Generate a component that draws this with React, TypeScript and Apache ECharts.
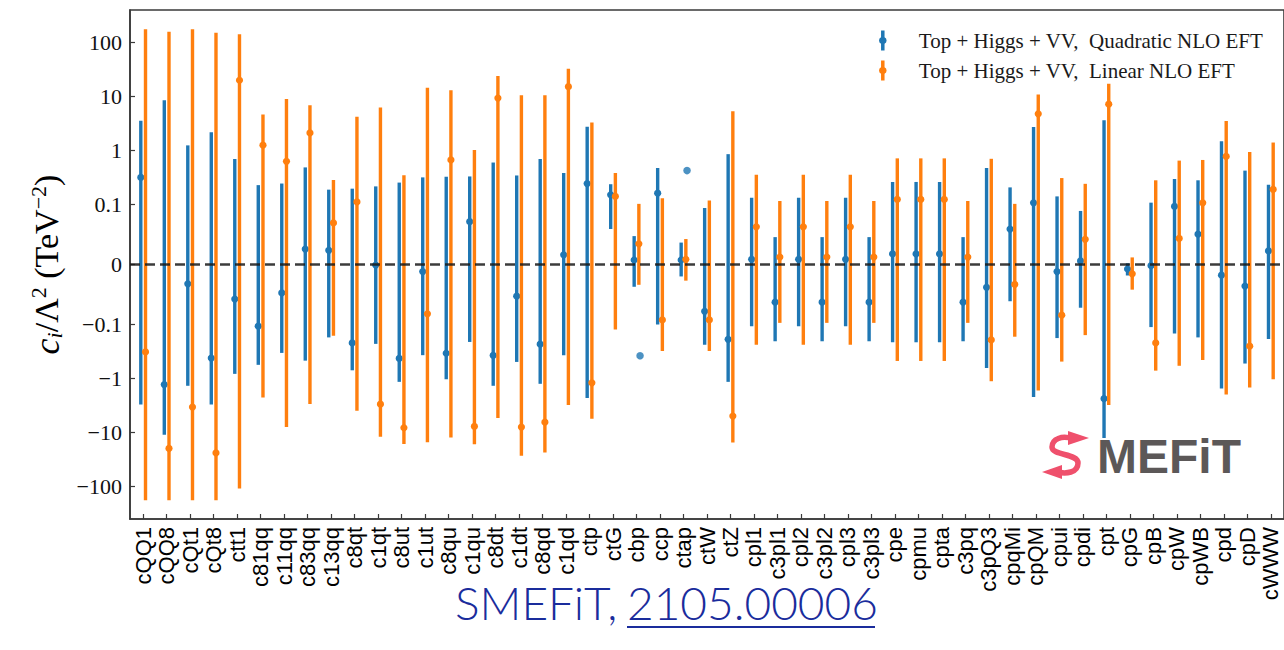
import React, { useEffect, useRef } from "react";
import * as echarts from "echarts";

// Wilson coefficients, in plotting order
const coefficients = [
  "cQQ1", "cQQ8", "cQt1", "cQt8", "ctt1", "c81qq", "c11qq", "c83qq", "c13qq", "c8qt",
  "c1qt", "c8ut", "c1ut", "c8qu", "c1qu", "c8dt", "c1dt", "c8qd", "c1qd", "ctp",
  "ctG", "cbp", "ccp", "ctap", "ctW", "ctZ", "cpl1", "c3pl1", "cpl2", "c3pl2",
  "cpl3", "c3pl3", "cpe", "cpmu", "cpta", "c3pq", "c3pQ3", "cpqMi", "cpQM", "cpui",
  "cpdi", "cpt", "cpG", "cpB", "cpW", "cpWB", "cpd", "cpD", "cWWW",
];

// Top + Higgs + VV, quadratic NLO EFT: best fit and lower / upper bounds (TeV^-2)
const quadCentral = [
  0.317, -1.29, -0.0322, -0.417, -0.0575, -0.107, -0.0473, 0.0258, 0.0236, -0.219,
  -0.001, -0.423, -0.0118, -0.34, 0.0714, -0.374, -0.0527, -0.231, 0.0161, 0.244,
  0.151, 0.0075, 0.162, 0.0075, -0.0779, -0.188, 0.0086, -0.0628, 0.0086, -0.0628,
  0.0086, -0.0628, 0.0177, 0.0177, 0.0177, -0.0628, -0.0381, 0.0591, 0.107, -0.0118,
  0.0059, -2.36, -0.0075, -0.002, 0.0967, 0.0505, -0.0177, -0.036, 0.0226,
];
const quadLow = [
  -3.02, -11.0, -1.36, -3.02, -0.818, -0.557, -0.335, -0.466, -0.173, -0.703,
  -0.228, -1.15, -0.369, -1.03, -0.21, -1.36, -0.492, -1.25, -0.369, -2.29,
  0.0591, -0.0371, -0.0999, -0.0199, -0.237, -1.15, -0.108, -0.204, -0.108, -0.204,
  -0.108, -0.204, -0.213, -0.213, -0.213, -0.204, -0.639, -0.0612, -2.2, -0.178,
  -0.072, -12.6, -0.0183, -0.1115, -0.147, -0.173, -1.52, -0.527, -0.185,
];
const quadHigh = [
  3.56, 8.47, 1.24, 2.17, 0.694, 0.228, 0.244, 0.485, 0.188, 0.196,
  0.216, 0.254, 0.317, 0.326, 0.33, 0.597, 0.344, 0.694, 0.384, 2.74,
  0.237, 0.0473, 0.472, 0.0365, 0.094, 0.853, 0.133, 0.0456, 0.133, 0.0456,
  0.133, 0.0456, 0.261, 0.261, 0.261, 0.0456, 0.472, 0.207, 2.7, 0.141,
  0.0892, 3.61, 0.002, 0.108, 0.296, 0.28, 1.48, 0.423, 0.231,
];
// Second quadratic solution for cbp and ctap
const quadAltIndex = [21, 23];
const quadAltValue = [-0.379, 0.423];

// Top + Higgs + VV, linear NLO EFT
const linCentral = [
  -0.321, -19.6, -3.37, -23.8, 19.9, 1.25, 0.63, 2.11, 0.0693, 0.1115,
  -2.98, -8.13, -0.0822, 0.666, -7.69, 9.33, -7.91, -6.43, 15.1, -1.2,
  0.141, 0.0344, -0.0924, 0.0086, -0.0924, -4.95, 0.0628, 0.0124, 0.0628, 0.0124,
  0.0628, 0.0124, 0.124, 0.124, 0.124, 0.0124, -0.193, -0.0333, 4.75, -0.0844,
  0.0419, 7.18, -0.0156, -0.219, 0.0435, 0.107, 0.774, -0.251, 0.19,
];
const linLow = [
  -179, -179, -179, -179, -108, -2.23, -7.91, -2.94, -0.162, -3.92,
  -11.9, -16.2, -15.1, -12.3, -16.4, -5.38, -26.9, -23.4, -3.1, -5.53,
  -0.124, -0.0338, -0.308, -0.0269, -0.308, -15.3, -0.237, -0.0972, -0.237, -0.0972,
  -0.237, -0.0972, -0.472, -0.472, -0.472, -0.0972, -1.12, -0.168, -1.67, -0.485,
  -0.157, -3.1, -0.0419, -0.713, -0.58, -0.453, -1.97, -1.46, -1.03,
];
const linHigh = [
  174, 158, 174, 150, 142, 4.62, 8.95, 6.89, 0.284, 4.2,
  6.26, 0.349, 14.5, 13.0, 1.02, 23.8, 10.5, 10.5, 32.6, 3.28,
  0.384, 0.1026, 0.131, 0.0424, 0.119, 5.31, 0.354, 0.116, 0.354, 0.116,
  0.354, 0.116, 0.713, 0.713, 0.713, 0.116, 0.7, 0.1026, 10.8, 0.308,
  0.241, 17.1, 0.0118, 0.28, 0.648, 0.666, 3.51, 0.939, 1.4,
];

const yTickValues = [-100, -10, -1, -0.1, 0, 0.1, 1, 10, 100];
const yTickLabels = ["\u2212100", "\u221210", "\u22121", "\u22120.1", "0", "0.1", "1", "10", "100"];

const QUAD_NAME = "Top + Higgs + VV,  Quadratic NLO EFT";
const LIN_NAME = "Top + Higgs + VV,  Linear NLO EFT";
const BLUE = "#1f77b4";
const ORANGE = "#ff7f0e";
const SERIF = '"Liberation Serif", "DejaVu Serif", serif';
const SANS = '"Liberation Sans", Arial, sans-serif';

// symmetric log scale: linear within +-0.1, one decade per unit outside
const LINTHRESH = 0.1;
const LINSCALE_ADJ = 1 / (1 - 1 / 10);
function symlog(v: number): number {
  const a = Math.abs(v);
  if (a <= LINTHRESH) return (v / LINTHRESH) * LINSCALE_ADJ;
  return Math.sign(v) * (LINSCALE_ADJ + Math.log10(a / LINTHRESH));
}

const ERRBAR_ICON =
  "path://M3.25,0H6.75V6.63A3.8,3.8,0,0,1,6.75,13.37V20H3.25V13.37A3.8,3.8,0,0,1,3.25,6.63Z";

// pink "S" of the SMEFiT logo
echarts.graphic.registerShape(
  "smefitS",
  echarts.graphic.extendPath(
    "M33,11 C22,7 12,11 12,19 C12,28 38,25 38,35 C38,45 26,46 17,44",
    {}
  )
);

function errorSeries(name: string, color: string, offset: number, low: number[], central: number[], high: number[], z: number) {
  return {
    name,
    type: "custom",
    z,
    itemStyle: { color },
    clip: false,
    encode: { x: 0, y: [1, 2, 3] },
    data: coefficients.map((_, i) => [i + offset, symlog(low[i]), symlog(high[i]), symlog(central[i])]),
    renderItem: (params: any, api: any) => {
      const x = api.value(0);
      const p1 = api.coord([x, api.value(1)]);
      const p2 = api.coord([x, api.value(2)]);
      const pc = api.coord([x, api.value(3)]);
      return {
        type: "group",
        children: [
          {
            type: "line",
            shape: { x1: p1[0], y1: p1[1], x2: p2[0], y2: p2[1] },
            style: { stroke: color, lineWidth: 3.4 },
          },
          {
            type: "circle",
            shape: { cx: pc[0], cy: pc[1], r: 3.6 },
            style: { fill: color },
          },
        ],
      };
    },
  };
}

export default function App() {
  const ref = useRef<HTMLDivElement>(null);

  useEffect(() => {
    if (!ref.current) return;
    const chart = echarts.init(ref.current, undefined, { renderer: "svg" });
    const yTickT = yTickValues.map(symlog);
    const xTicks = coefficients.map((_, i) => i);

    const option: any = {
      animation: false,
      backgroundColor: "#ffffff",
      grid: {
        left: 130,
        top: 10,
        width: 1154,
        height: 509,
        show: true,
        borderColor: "#3a3a3a",
        borderWidth: 1.6,
        containLabel: false,
        outerBoundsMode: "none",
      },
      xAxis: {
        type: "value",
        min: -0.56,
        max: 48.56,
        axisLine: { show: true, onZero: false, lineStyle: { color: "#3a3a3a", width: 1.6 } },
        axisTick: {
          show: true,
          inside: true,
          length: 5,
          customValues: xTicks,
          lineStyle: { color: "#3a3a3a", width: 1.2 },
        },
        splitLine: { show: false },
        axisLabel: {
          customValues: xTicks,
          rotate: 90,
          margin: 8,
          fontFamily: SANS,
          fontSize: 22,
          color: "#000",
          formatter: (v: number) => coefficients[Math.round(v)] ?? "",
        },
      },
      yAxis: {
        type: "value",
        min: -4.71,
        max: 4.71,
        name: "{i|c}{sub|i}{r|/\u039b}{sup|2}{r| (TeV}{sup|\u22122}{r|)}",
        nameLocation: "middle",
        nameRotate: 90,
        nameGap: 62,
        nameTextStyle: {
          rich: {
            i: { fontFamily: SERIF, fontStyle: "italic", fontSize: 36, color: "#000", lineHeight: 38 },
            r: { fontFamily: SERIF, fontSize: 34, color: "#000", lineHeight: 38 },
            sub: { fontFamily: SERIF, fontStyle: "italic", fontSize: 22, color: "#000", verticalAlign: "bottom", lineHeight: 16 },
            sup: { fontFamily: SERIF, fontSize: 22, color: "#000", verticalAlign: "top", lineHeight: 16 },
          },
        },
        axisLine: { show: true, onZero: false, lineStyle: { color: "#3a3a3a", width: 1.6 } },
        axisTick: {
          show: true,
          inside: true,
          length: 5,
          customValues: yTickT,
          lineStyle: { color: "#3a3a3a", width: 1.2 },
        },
        splitLine: { show: false },
        axisLabel: {
          customValues: yTickT,
          margin: 8,
          fontFamily: SERIF,
          fontSize: 22,
          color: "#111",
          formatter: (v: number) => {
            let best = 0;
            for (let i = 1; i < yTickT.length; i++) {
              if (Math.abs(yTickT[i] - v) < Math.abs(yTickT[best] - v)) best = i;
            }
            return yTickLabels[best];
          },
        },
      },
      legend: {
        data: [
          { name: QUAD_NAME, icon: ERRBAR_ICON },
          { name: LIN_NAME, icon: ERRBAR_ICON },
        ],
        orient: "vertical",
        left: 874,
        top: 25,
        itemWidth: 10,
        itemHeight: 20,
        itemGap: 9,
        selectedMode: false,
        textStyle: { fontFamily: SERIF, fontSize: 21, color: "#1a1a1a", padding: [0, 0, 0, 26] },
      },
      series: [
        errorSeries(QUAD_NAME, BLUE, -0.1, quadLow, quadCentral, quadHigh, 2),
        errorSeries(LIN_NAME, ORANGE, 0.1, linLow, linCentral, linHigh, 3),
        {
          name: "quadratic second solution",
          type: "scatter",
          z: 2,
          symbol: "circle",
          symbolSize: 7.5,
          itemStyle: { color: BLUE },
          data: quadAltIndex.map((k, j) => [k + 0.15, symlog(quadAltValue[j])]),
        },
        {
          name: "zero",
          type: "line",
          z: 5,
          silent: true,
          symbol: "none",
          lineStyle: { color: "#1a1a1a", width: 2.4, type: [10, 5], opacity: 0.85 },
          data: [[-0.56, 0], [48.56, 0]],
        },
      ],
      graphic: [
        {
          type: "smefitS",
          x: 1040,
          y: 428,
          style: { fill: "none", stroke: "#ef506c", lineWidth: 5.5 },
          z: 10,
        },
        {
          type: "polygon",
          shape: { points: [[1068, 431], [1089, 438], [1068, 445]] },
          style: { fill: "#ef506c" },
          z: 10,
        },
        {
          type: "polygon",
          shape: { points: [[1062, 465], [1042, 472], [1062, 479]] },
          style: { fill: "#ef506c" },
          z: 10,
        },
        {
          type: "text",
          x: 1097,
          y: 456,
          style: {
            text: "MEFiT",
            fontFamily: SANS,
            fontWeight: "bold",
            fontSize: 48,
            fill: "#5c5858",
            verticalAlign: "middle",
          },
          z: 10,
        },
        {
          type: "text",
          x: 455,
          y: 602,
          style: {
            text: "SMEFiT,",
            fontFamily: '"Lato", "Open Sans", sans-serif',
            fontWeight: 300,
            fontSize: 46,
            fill: "#1a2c9c",
            verticalAlign: "middle",
          },
        },
        {
          type: "text",
          x: 627,
          y: 602,
          style: {
            text: "2105.00006",
            fontFamily: '"Lato", "Open Sans", sans-serif',
            fontWeight: 300,
            fontSize: 46,
            fill: "#1a2c9c",
            verticalAlign: "middle",
          },
        },
        {
          type: "line",
          shape: { x1: 627, y1: 627, x2: 875, y2: 627 },
          style: { stroke: "#1a2c9c", lineWidth: 2 },
        },
      ],
    };

    chart.setOption(option);
    return () => chart.dispose();
  }, []);

  return (
    <div
      ref={ref}
      style={{ position: "absolute", left: 0, top: 0, width: 1284, height: 650, background: "#fff" }}
    />
  );
}
